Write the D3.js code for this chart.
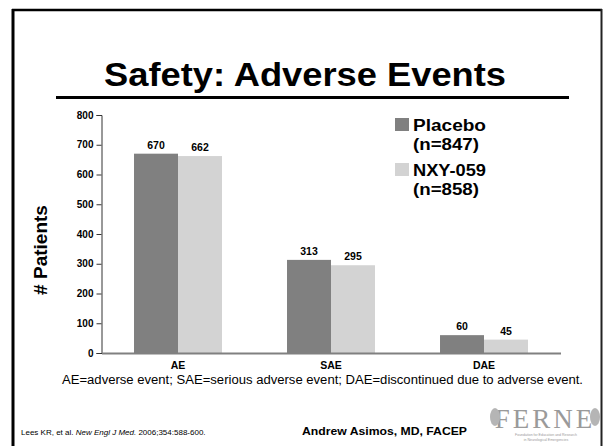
<!DOCTYPE html>
<html>
<head>
<meta charset="utf-8">
<script src="https://cdn.jsdelivr.net/npm/d3@7"></script>
<style>
  body { margin: 0; background: #fff; }
  svg { display: block; font-family: Arial, "Liberation Sans", sans-serif; }
</style>
</head>
<body>
<div id="chart"></div>
<script>
// values
const categories = ['AE', 'SAE', 'DAE'];
const placeboValues = [670, 313, 60];
const nxyValues = [662, 295, 45];
const seriesNames = ['Placebo', 'NXY-059'];
const seriesCounts = ['(n=847)', '(n=858)'];
const seriesColors = ['#808080', '#d3d3d3'];
const yTickValues = [0, 100, 200, 300, 400, 500, 600, 700, 800];

const W = 603, H = 446;
const svg = d3.select('#chart').append('svg').attr('width', W).attr('height', H);

svg.append('rect').attr('width', W).attr('height', H).attr('fill', '#fff');

// slide frame
svg.append('line').attr('x1', 13).attr('x2', 13).attr('y1', 9).attr('y2', H).attr('stroke', '#000').attr('stroke-width', 3);
svg.append('line').attr('x1', 12).attr('x2', 602).attr('y1', 10).attr('y2', 10).attr('stroke', '#000').attr('stroke-width', 2.5);
svg.append('line').attr('x1', 601.5).attr('x2', 601.5).attr('y1', 9).attr('y2', H).attr('stroke', '#222').attr('stroke-width', 2);

// title + rule
svg.append('text').attr('x', 305).attr('y', 86).attr('text-anchor', 'middle')
  .attr('font-size', 33).attr('font-weight', 'bold')
  .attr('textLength', 402).attr('lengthAdjust', 'spacingAndGlyphs')
  .text('Safety: Adverse Events');
svg.append('line').attr('x1', 56).attr('x2', 569).attr('y1', 97.5).attr('y2', 97.5).attr('stroke', '#000').attr('stroke-width', 3);

// chart area
const x0 = d3.scaleBand().domain(categories).range([101.5, 560.5]).paddingInner(0.425).paddingOuter(0.2125);
const x1 = d3.scaleBand().domain(seriesNames).range([0, x0.bandwidth()]);
const y = d3.scaleLinear().domain([0, 800]).range([353, 115]);

const rows = categories.map((c, i) => ({ cat: c, vals: [placeboValues[i], nxyValues[i]] }));

const groups = svg.selectAll('.grp').data(rows).enter().append('g')
  .attr('transform', d => `translate(${x0(d.cat)},0)`);

groups.selectAll('rect').data(d => d.vals.map((v, j) => ({ v, j }))).enter().append('rect')
  .attr('x', d => x1(seriesNames[d.j]))
  .attr('width', x1.bandwidth())
  .attr('y', d => y(d.v))
  .attr('height', d => y(0) - y(d.v))
  .attr('fill', d => seriesColors[d.j]);

groups.selectAll('.val').data(d => d.vals.map((v, j) => ({ v, j }))).enter().append('text')
  .attr('x', d => x1(seriesNames[d.j]) + x1.bandwidth() / 2)
  .attr('y', d => y(d.v) - 5)
  .attr('text-anchor', 'middle').attr('font-size', 10.5).attr('font-weight', 'bold')
  .text(d => d.v);

// y axis
const yAxis = svg.append('g').attr('transform', 'translate(101.5,0)')
  .call(d3.axisLeft(y).tickValues(yTickValues).tickSize(5).tickPadding(3));
yAxis.select('.domain').attr('stroke', '#333');
yAxis.selectAll('.tick line').attr('stroke', '#333');
yAxis.selectAll('text').attr('font-size', 10).attr('font-weight', 'bold').attr('fill', '#000')
  .attr('font-family', 'Arial, "Liberation Sans", sans-serif');

// x axis
const xAxis = svg.append('g').attr('transform', 'translate(0,353)')
  .call(d3.axisBottom(x0).tickSize(0).tickPadding(9));
xAxis.select('.domain').attr('stroke', '#808080').attr('stroke-width', 2);
xAxis.selectAll('text').attr('font-size', 10.5).attr('font-weight', 'bold').attr('fill', '#000')
  .attr('font-family', 'Arial, "Liberation Sans", sans-serif');

// y title
svg.append('text').attr('transform', 'translate(47,250) rotate(-90)')
  .attr('text-anchor', 'middle').attr('font-size', 19).attr('font-weight', 'bold')
  .text('# Patients');

// legend
const legendTop = [118, 163];
seriesNames.forEach((name, i) => {
  const g = svg.append('g').attr('transform', `translate(395,${legendTop[i]})`);
  g.append('rect').attr('width', 14).attr('height', 13).attr('fill', seriesColors[i]);
  g.append('text').attr('x', 18).attr('y', 13).attr('font-size', 16).attr('font-weight', 'bold')
    .attr('textLength', 73).attr('lengthAdjust', 'spacingAndGlyphs').text(name);
  g.append('text').attr('x', 18).attr('y', 32).attr('font-size', 16).attr('font-weight', 'bold')
    .attr('textLength', 66).attr('lengthAdjust', 'spacingAndGlyphs').text(seriesCounts[i]);
});

// footnote
svg.append('text').attr('x', 62).attr('y', 384).attr('font-size', 12.5)
  .attr('textLength', 521).attr('lengthAdjust', 'spacingAndGlyphs')
  .text('AE=adverse event; SAE=serious adverse event; DAE=discontinued due to adverse event.');

// citation + author
const cite = svg.append('text').attr('x', 21).attr('y', 435).attr('font-size', 8);
cite.append('tspan').text('Lees KR, et al. ');
cite.append('tspan').attr('font-style', 'italic').text('New Engl J Med.');
cite.append('tspan').text(' 2006;354:588-600.');

svg.append('text').attr('x', 302).attr('y', 435).attr('font-size', 11).attr('font-weight', 'bold')
  .attr('textLength', 165).attr('lengthAdjust', 'spacingAndGlyphs')
  .text('Andrew Asimos, MD, FACEP');

// FERNE logo (approximate)
const logo = svg.append('g').attr('fill', '#9a9a9a');
logo.append('text').attr('x', 545).attr('y', 428).attr('text-anchor', 'middle')
  .attr('font-family', '"Liberation Serif", "DejaVu Serif", serif').attr('font-size', 27)
  .attr('letter-spacing', 3).text('FERNE');
logo.append('text').attr('x', 546).attr('y', 436).attr('text-anchor', 'middle')
  .attr('font-size', 3.5).text('Foundation for Education and Research');
logo.append('text').attr('x', 546).attr('y', 441).attr('text-anchor', 'middle')
  .attr('font-size', 3.5).text('in Neurological Emergencies');
[495, 595].forEach(cx => {
  logo.append('ellipse').attr('cx', cx).attr('cy', 417).attr('rx', 5).attr('ry', 9).attr('fill', '#b5b5b5');
});
</script>
</body>
</html>
